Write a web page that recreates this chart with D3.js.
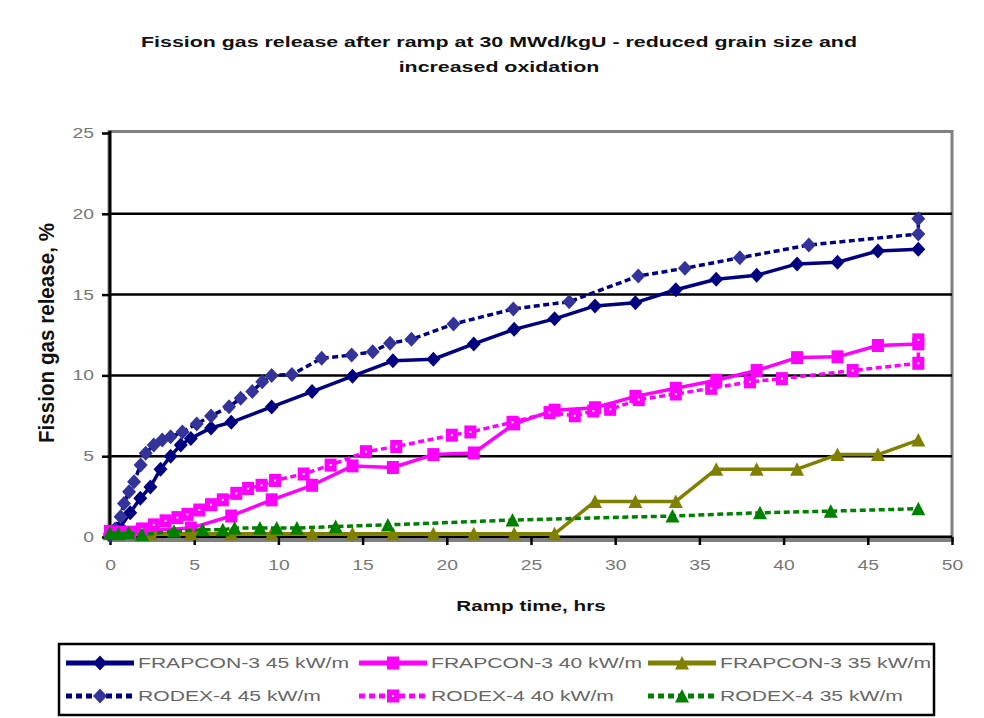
<!DOCTYPE html>
<html>
<head>
<meta charset="utf-8">
<script src="https://cdn.jsdelivr.net/npm/d3@7"></script>
<style>
  html, body { margin: 0; padding: 0; background: #fff; }
  svg { display: block; font-family: Arial, "Liberation Sans", sans-serif; }
</style>
</head>
<body>
<svg id="chart" width="984" height="718"></svg>
<script>
// ---- Chart text ----
const titleLines = [
  "Fission gas release after ramp at 30 MWd/kgU - reduced grain size and",
  "increased oxidation"
];
const xTitle = "Ramp time, hrs";
const yTitle = "Fission gas release, %";
const xTicks = [0, 5, 10, 15, 20, 25, 30, 35, 40, 45, 50];
const yTicks = [0, 5, 10, 15, 20, 25];
const seriesNames = [
  "FRAPCON-3 45 kW/m", "FRAPCON-3 40 kW/m", "FRAPCON-3 35 kW/m",
  "RODEX-4 45 kW/m", "RODEX-4 40 kW/m", "RODEX-4 35 kW/m"
];

// ---- FRAPCON-3 results (ramp time in hours, release in %) ----
const frapcon45Time = [0, 0.6, 1.2, 1.8, 2.4, 3.0, 3.6, 4.2, 4.8, 6.0, 7.2, 9.6, 12, 14.4, 16.8, 19.2, 21.6, 24, 26.4, 28.8, 31.2, 33.6, 36, 38.4, 40.8, 43.2, 45.6, 48];
const frapcon45FGR  = [0.2, 0.6, 1.5, 2.4, 3.1, 4.2, 5.0, 5.7, 6.1, 6.75, 7.1, 8.05, 9.0, 9.95, 10.9, 11.0, 11.95, 12.85, 13.5, 14.3, 14.5, 15.3, 15.95, 16.2, 16.9, 17.0, 17.7, 17.8];

const frapconTime   = [0, 2.4, 4.8, 7.2, 9.6, 12, 14.4, 16.8, 19.2, 21.6, 24, 26.4, 28.8, 31.2, 33.6, 36, 38.4, 40.8, 43.2, 45.6, 48];
const frapcon40FGR  = [0.35, 0.4, 0.55, 1.3, 2.3, 3.2, 4.4, 4.3, 5.1, 5.2, 7.0, 7.85, 8.0, 8.7, 9.2, 9.7, 10.3, 11.1, 11.15, 11.85, 11.95];
const frapcon35FGR  = [0.2, 0.2, 0.2, 0.2, 0.2, 0.2, 0.2, 0.2, 0.2, 0.2, 0.2, 0.2, 2.2, 2.2, 2.2, 4.2, 4.2, 4.2, 5.1, 5.1, 6.0];

// ---- RODEX-4 results ----
const rodex45Time = [0, 0.3, 0.63, 0.83, 1.13, 1.43, 1.82, 2.12, 2.6, 3.1, 3.6, 4.3, 5.15, 6.0, 7.07, 7.76, 8.45, 9.04, 9.6, 10.8, 12.57, 14.35, 15.6, 16.63, 17.9, 20.4, 23.95, 27.27, 31.37, 34.14, 37.4, 41.5, 48, 48];
const rodex45FGR  = [0.1, 0.5, 1.26, 2.08, 2.8, 3.42, 4.46, 5.18, 5.69, 6.0, 6.2, 6.5, 7.0, 7.49, 8.06, 8.58, 9.0, 9.6, 10.0, 10.05, 11.06, 11.26, 11.47, 11.99, 12.23, 13.18, 14.11, 14.56, 16.15, 16.63, 17.28, 18.07, 18.75, 19.7];

const rodex40Time = [0, 0.6, 1.2, 1.9, 2.6, 3.3, 4.0, 4.6, 5.3, 6.0, 6.7, 7.5, 8.2, 9.0, 9.8, 11.5, 13.1, 15.2, 17.0, 20.3, 21.4, 23.9, 26.1, 27.6, 28.7, 29.7, 31.4, 33.6, 35.7, 38.0, 39.9, 44.1, 48, 48];
const rodex40FGR  = [0.3, 0.3, 0.3, 0.5, 0.75, 1.0, 1.2, 1.4, 1.67, 2.0, 2.3, 2.7, 3.0, 3.2, 3.5, 3.9, 4.45, 5.28, 5.6, 6.3, 6.5, 7.1, 7.7, 7.5, 7.8, 7.9, 8.5, 8.85, 9.2, 9.6, 9.8, 10.3, 10.75, 12.2];

const rodex35Time = [0, 0.5, 1.1, 1.9, 3.8, 5.5, 6.7, 7.4, 8.9, 9.9, 11.1, 13.4, 16.5, 23.9, 33.4, 38.6, 42.8, 48];
const rodex35FGR  = [0.25, 0.2, 0.25, 0.15, 0.35, 0.45, 0.45, 0.55, 0.55, 0.55, 0.55, 0.65, 0.75, 1.05, 1.3, 1.5, 1.6, 1.75];

// ---- Series styling ----
const series = [
  { name: seriesNames[0], t: frapcon45Time, v: frapcon45FGR, line: "#000080", mark: "#000080", dashed: false, shape: "diamond" },
  { name: seriesNames[1], t: frapconTime,   v: frapcon40FGR, line: "#FF00FF", mark: "#FF00FF", dashed: false, shape: "square" },
  { name: seriesNames[2], t: frapconTime,   v: frapcon35FGR, line: "#808000", mark: "#808000", dashed: false, shape: "triangle" },
  { name: seriesNames[3], t: rodex45Time,   v: rodex45FGR,   line: "#000080", mark: "#333399", dashed: true,  shape: "diamond" },
  { name: seriesNames[4], t: rodex40Time,   v: rodex40FGR,   line: "#FF00FF", mark: "#FF00FF", dashed: true,  shape: "squareDot" },
  { name: seriesNames[5], t: rodex35Time,   v: rodex35FGR,   line: "#008000", mark: "#008000", dashed: true,  shape: "triangle" }
];

const W = 984, H = 718;
const SX = 1.38;               // horizontal glyph stretch used for all text
const svg = d3.select("#chart");
svg.append("rect").attr("width", W).attr("height", H).attr("fill", "#fff");

const x = d3.scaleLinear().domain([0, 50]).range([110, 952]);
const y = d3.scaleLinear().domain([0, 25]).range([537, 133]);

// stretched text placed at (px, py)
function label(parent, px, py, str, opts) {
  const g = parent.append("g").attr("transform", `translate(${px},${py}) scale(${SX},1)` + (opts.rotate ? ` rotate(${opts.rotate})` : ""));
  const t = g.append("text")
    .attr("x", 0).attr("y", 0).attr("dy", "0.35em")
    .attr("text-anchor", opts.anchor || "start")
    .attr("font-size", opts.size || 14)
    .attr("font-weight", opts.bold ? "bold" : "normal")
    .attr("fill", opts.fill || "#000")
    .text(str);
  if (opts.length) t.attr("textLength", opts.length).attr("lengthAdjust", "spacingAndGlyphs");
  return t;
}

// ---- Title ----
label(svg, 499, 42, titleLines[0], { anchor: "middle", bold: true, size: 15.5, fill: "#111" });
label(svg, 499, 67, titleLines[1], { anchor: "middle", bold: true, size: 15.5, fill: "#111" });

// ---- Plot frame and gridlines ----
const plot = svg.append("g");
plot.append("rect")
  .attr("x", x(0) - 1).attr("y", y(25) - 1.5)
  .attr("width", x(50) - x(0) + 1).attr("height", y(0) - y(25) + 5)
  .attr("fill", "#fff").attr("stroke", "#808080").attr("stroke-width", 3);

plot.selectAll("line.grid")
  .data(yTicks.filter(d => d > 0 && d < 25))
  .join("line").attr("class", "grid")
  .attr("x1", x(0)).attr("x2", x(50))
  .attr("y1", d => y(d)).attr("y2", d => y(d))
  .attr("stroke", "#000").attr("stroke-width", 2.5);

// ---- Axes ----
const yAxis = svg.append("g").attr("transform", `translate(${x(0)},0)`)
  .call(d3.axisLeft(y).tickValues(yTicks).tickSize(8).tickSizeOuter(0));
const xAxis = svg.append("g").attr("transform", `translate(0,${y(0)})`)
  .call(d3.axisBottom(x).tickValues(xTicks).tickSize(8).tickSizeOuter(0));

[yAxis, xAxis].forEach(a => {
  a.select(".domain").remove();
  a.selectAll(".tick line").attr("stroke", "#000").attr("stroke-width", 2.5);
  a.selectAll(".tick text")
    .attr("font-size", 14).attr("fill", "#777")
    .attr("font-family", "Arial, 'Liberation Sans', sans-serif");
});
yAxis.selectAll(".tick text").attr("x", -16 / SX).attr("transform", `scale(${SX},1)`);
xAxis.selectAll(".tick text").attr("y", 23).attr("transform", `scale(${SX},1)`);

svg.append("line")
  .attr("x1", x(0)).attr("x2", x(0)).attr("y1", y(25) - 2).attr("y2", y(0) + 4)
  .attr("stroke", "#000").attr("stroke-width", 3);
svg.append("line")
  .attr("x1", x(0)).attr("x2", x(50)).attr("y1", y(0)).attr("y2", y(0))
  .attr("stroke", "#000").attr("stroke-width", 3);

// ---- Axis titles ----
label(svg, x(25), 606, xTitle, { anchor: "middle", bold: true, size: 15, fill: "#111" });
label(svg, 47, 333, yTitle, { anchor: "middle", bold: true, size: 15.5, fill: "#111", rotate: -90, length: 220 });

// ---- Markers ----
const shapes = {
  diamond:  "M0,-7.5L7,0L0,7.5L-7,0Z",
  square:   "M-6,-6.5H6V6.5H-6Z",
  squareDot:"M-6,-6.5H6V6.5H-6Z",
  triangle: "M0,-7L7,6.5L-7,6.5Z"
};
function drawMarker(g, shape, color) {
  g.append("path").attr("d", shapes[shape]).attr("fill", color);
  if (shape === "squareDot") {
    g.append("rect").attr("x", -1).attr("y", -1).attr("width", 2).attr("height", 2).attr("fill", "#fff");
  }
}

// ---- Series ----
const lineGen = d3.line().x(d => x(d[0])).y(d => y(d[1]));
const marks = svg.append("g");
series.forEach(s => {
  const pts = s.t.map((t, i) => [t, s.v[i]]);
  const g = marks.append("g");
  g.append("path")
    .attr("d", lineGen(pts))
    .attr("fill", "none")
    .attr("stroke", s.line)
    .attr("stroke-width", s.dashed ? 3.5 : 3.5)
    .attr("stroke-dasharray", s.dashed ? "6,3.5" : null)
    .attr("stroke-linejoin", "round");
  pts.forEach(p => {
    const m = g.append("g").attr("transform", `translate(${x(p[0])},${y(p[1])})`);
    drawMarker(m, s.shape, s.mark);
  });
});

// ---- Legend ----
const legend = svg.append("g");
legend.append("rect")
  .attr("x", 59).attr("y", 644).attr("width", 875).attr("height", 71)
  .attr("fill", "#fff").attr("stroke", "#000").attr("stroke-width", 2.5);
const colX = [66, 359, 648];
const rowY = [663, 696];
series.forEach((s, i) => {
  const cx = colX[i % 3], cy = rowY[Math.floor(i / 3)];
  const g = legend.append("g");
  g.append("line")
    .attr("x1", cx).attr("x2", cx + 68).attr("y1", cy).attr("y2", cy)
    .attr("stroke", s.line).attr("stroke-width", 5)
    .attr("stroke-dasharray", s.dashed ? "6,4" : null);
  const m = g.append("g").attr("transform", `translate(${cx + 34},${cy})`);
  drawMarker(m, s.shape, s.mark);
  label(g, cx + 72, cy, s.name, { size: 15.3, fill: "#666" });
});
</script>
</body>
</html>
